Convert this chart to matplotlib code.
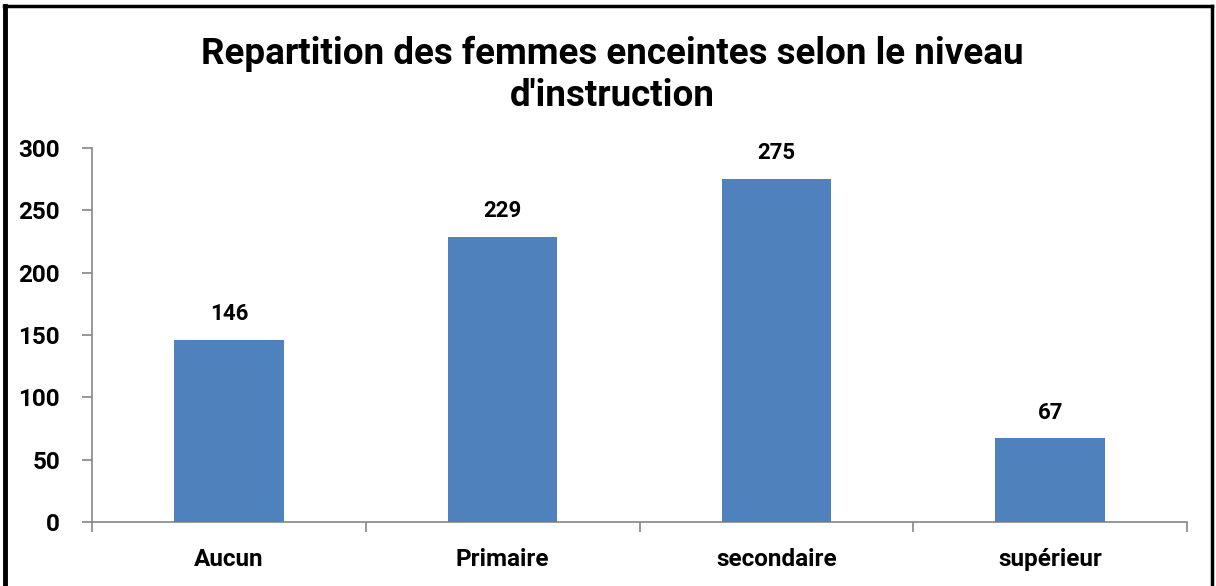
import matplotlib
matplotlib.use("Agg")
import matplotlib.pyplot as plt
from matplotlib.lines import Line2D
import numpy as np

categories = ["Aucun", "Primaire", "secondaire", "supérieur"]
counts = [146, 229, 275, 67]
y_ticks = [0, 50, 100, 150, 200, 250, 300]

_BAR = "#4F81BD"
_AX = "#868686"

plt.rcParams["font.family"] = ["Roboto", "DejaVu Sans"]

fig = plt.figure(figsize=(12.16, 5.86), dpi=100)
ax = fig.add_axes([92 / 1216, 1 - 522 / 586, (1187 - 92) / 1216, (522 - 148) / 586])

xs = np.arange(len(categories))
bars = ax.bar(xs, counts, 0.4, color=_BAR, zorder=3)
for b, v in zip(bars, counts):
    ax.text(b.get_x() + b.get_width() / 2, v + 12, f"{v}",
            ha="center", va="bottom", fontsize=16, fontweight="bold")

ax.set_xlim(-0.5, len(categories) - 0.5)
ax.set_ylim(0, 300)
ax.set_yticks(y_ticks)
ax.set_yticklabels([str(t) for t in y_ticks], fontsize=17.5, fontweight="bold")
ax.set_xticks(xs)
ax.set_xticklabels(categories, fontsize=17.5, fontweight="bold")
ax.tick_params(axis="x", length=0, pad=19)
ax.set_xticks(np.arange(len(categories) + 1) - 0.5, minor=True)
ax.tick_params(axis="x", which="minor", length=7, color=_AX, width=1.2, direction="out")
ax.tick_params(axis="y", length=7, color=_AX, width=1.2, pad=16)

for s in ["top", "right"]:
    ax.spines[s].set_visible(False)
for s in ["left", "bottom"]:
    ax.spines[s].set_color(_AX)
    ax.spines[s].set_linewidth(1.2)

fig.text(612 / 1216, 1 - 75 / 586,
         "Repartition des femmes enceintes selon le niveau\nd'instruction",
         ha="center", va="center", fontsize=26.5, fontweight="bold", linespacing=1.2)

# black frame around the chart (bottom edge is cut off in the reference)
fig.add_artist(Line2D([5 / 1216, 5 / 1216], [0, 1 - 6 / 586], color="black", lw=3.5,
                      transform=fig.transFigure))
fig.add_artist(Line2D([4 / 1216, 1212 / 1216], [1 - 6 / 586, 1 - 6 / 586], color="black", lw=2.5,
                      transform=fig.transFigure))
fig.add_artist(Line2D([1212 / 1216, 1212 / 1216], [0, 1 - 6 / 586], color="black", lw=2.5,
                      transform=fig.transFigure))

fig.savefig("out.png", dpi=100)
